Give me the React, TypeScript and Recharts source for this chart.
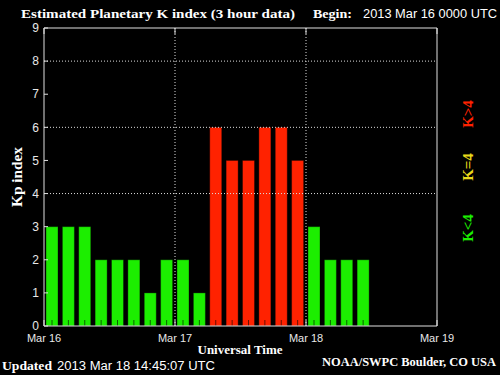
import { BarChart, Bar, XAxis, YAxis, ReferenceLine } from 'recharts';

// 3-hour Kp values, Mar 16 00 UTC onward (8 slots per day)
const kpValues = [3, 3, 3, 2, 2, 2, 1, 2, 2, 1, 6, 5, 5, 6, 6, 5, 3, 2, 2, 2];
const dayLabels = ['Mar 16', 'Mar 17', 'Mar 18', 'Mar 19'];
const dayTicks = [0, 8, 16, 24];
const dayBoundaries = [8, 16];
const kpTicks = [0, 1, 2, 3, 4, 5, 6, 7, 8, 9];
const gridLevels = [4, 6, 8];

const data = kpValues.map((kp, i) => ({ slot: i + 0.5, kp }));

const GREEN = '#1cee00';
const YELLOW = '#e8d81a';
const RED = '#ff2200';
const FRAME = '#e0e0e0';

const kpColor = (kp: number) => (kp > 4 ? RED : kp === 4 ? YELLOW : GREEN);

const KpBar = (props: any) => {
  const { x, y, width, height, payload } = props;
  if (!height) return <g />;
  const cx = x + width / 2;
  return (
    <g>
      <rect x={x} y={y} width={width} height={height} fill={kpColor(payload.kp)} stroke="#000" strokeOpacity={0.35} />
      <line x1={cx} x2={cx} y1={y + height - 6} y2={y + height} stroke="#000" strokeOpacity={0.6} />
    </g>
  );
};

const serif = '"Liberation Serif", serif';
const sans = '"Liberation Sans", Arial, sans-serif';

export default function App() {
  return (
    <div style={{ position: 'fixed', left: 0, top: 0, width: 500, height: 375, background: '#000' }}>
      <BarChart width={500} height={375} data={data} margin={{ top: 0, right: 62, bottom: 29, left: 14 }}>
        <XAxis
          xAxisId="bottom"
          type="number"
          dataKey="slot"
          domain={[0, 24]}
          ticks={dayTicks}
          tickFormatter={(v: number) => dayLabels[dayTicks.indexOf(v)]}
          height={20}
          stroke={FRAME}
          tickSize={-6}
          tickMargin={14}
          tick={{ fill: '#e8e8e8', fontSize: 11, fontFamily: sans }}
          allowDataOverflow
        />
        <XAxis
          xAxisId="top"
          orientation="top"
          type="number"
          dataKey="slot"
          domain={[0, 24]}
          ticks={dayTicks}
          tickFormatter={() => ''}
          height={28}
          stroke={FRAME}
          tickSize={-6}
          allowDataOverflow
        />
        <YAxis
          yAxisId="left"
          domain={[0, 9]}
          ticks={kpTicks}
          width={30}
          stroke={FRAME}
          tickSize={-4}
          tickMargin={9}
          tick={{ fill: '#e8e8e8', fontSize: 12, fontFamily: sans }}
          interval={0}
        />
        <YAxis
          yAxisId="right"
          orientation="right"
          domain={[0, 9]}
          ticks={kpTicks}
          width={1}
          stroke={FRAME}
          tickSize={-5}
          tickFormatter={() => ''}
          interval={0}
        />
        {gridLevels.map((lv) => (
          <ReferenceLine key={`h${lv}`} xAxisId="bottom" yAxisId="left" y={lv} stroke="#ddd" strokeDasharray="1 2" />
        ))}
        {dayBoundaries.map((d) => (
          <ReferenceLine key={`v${d}`} xAxisId="bottom" yAxisId="left" x={d} stroke="#ddd" strokeDasharray="1 2" />
        ))}
        <Bar
          xAxisId="bottom"
          yAxisId="left"
          dataKey="kp"
          barSize={12}
          shape={KpBar}
          isAnimationActive={false}
        />
      </BarChart>
      <svg width={500} height={375} style={{ position: 'absolute', left: 0, top: 0, pointerEvents: 'none' }}>
        <text x={21} y={18} fill="#fff" fontFamily={serif} fontWeight="bold" fontSize={13} textLength={274} lengthAdjust="spacingAndGlyphs">
          Estimated Planetary K index (3 hour data)
        </text>
        <text x={313} y={18} fill="#fff" fontFamily={serif} fontWeight="bold" fontSize={13} textLength={39} lengthAdjust="spacingAndGlyphs">
          Begin:
        </text>
        <text x={363} y={18} fill="#fff" fontFamily={sans} fontSize={12} textLength={134} lengthAdjust="spacingAndGlyphs">
          2013 Mar 16 0000 UTC
        </text>
        <text x={22} y={177} fill="#fff" fontFamily={serif} fontWeight="bold" fontSize={14} textAnchor="middle" textLength={60} lengthAdjust="spacingAndGlyphs" transform="rotate(-90 22 177)">
          Kp index
        </text>
        <text x={240} y={354} fill="#fff" fontFamily={serif} fontWeight="bold" fontSize={13} textAnchor="middle" textLength={85} lengthAdjust="spacingAndGlyphs">
          Universal Time
        </text>
        <text x={2} y={370} fill="#fff" fontFamily={serif} fontWeight="bold" fontSize={13} textLength={50} lengthAdjust="spacingAndGlyphs">
          Updated
        </text>
        <text x={57} y={370} fill="#fff" fontFamily={sans} fontSize={12} textLength={158} lengthAdjust="spacingAndGlyphs">
          2013 Mar 18 14:45:07 UTC
        </text>
        <text x={322} y={366} fill="#fff" fontFamily={serif} fontWeight="bold" fontSize={12} textLength={174} lengthAdjust="spacingAndGlyphs">
          NOAA/SWPC Boulder, CO USA
        </text>
        <text x={473} y={228} fill={GREEN} fontFamily={serif} fontWeight="bold" fontSize={15} textAnchor="middle" transform="rotate(-90 473 228)">
          K&lt;4
        </text>
        <text x={473} y={167} fill={YELLOW} fontFamily={serif} fontWeight="bold" fontSize={15} textAnchor="middle" transform="rotate(-90 473 167)">
          K=4
        </text>
        <text x={473} y={114} fill={RED} fontFamily={serif} fontWeight="bold" fontSize={15} textAnchor="middle" transform="rotate(-90 473 114)">
          K&gt;4
        </text>
      </svg>
    </div>
  );
}
